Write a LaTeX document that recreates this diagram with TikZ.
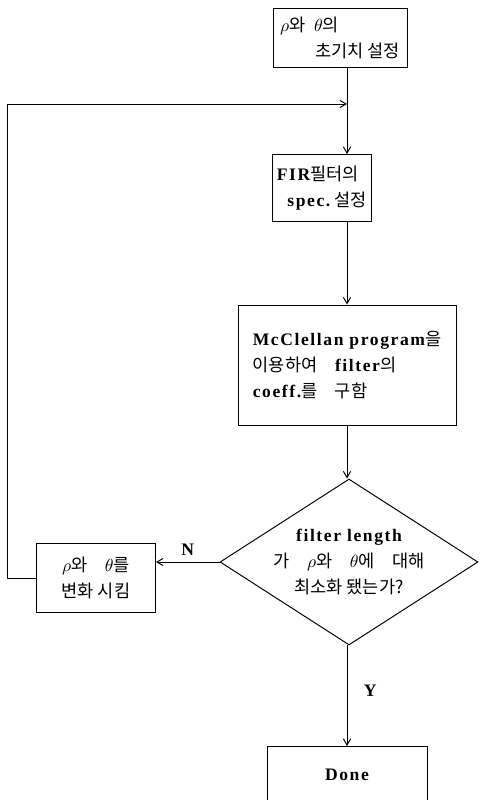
\documentclass[tikz,border=0pt]{standalone}
\usepackage{fontspec}
\usepackage{amsmath}
\usetikzlibrary{arrows}
\usetikzlibrary{shapes.geometric}
\setmainfont{Liberation Serif}
\newfontfamily\kr{Noto Sans CJK KR}
\newcommand{\hg}[1]{{\kr #1}}
\newcommand{\ls}[1]{{\addfontfeature{LetterSpace=9}#1}}

\begin{document}
\begin{tikzpicture}[x=0.02cm, y=-0.02cm, >=angle 60,
	box/.style={draw, rectangle, line width=0.55pt, align=left, inner xsep=2pt,
		font=\fontsize{10}{15}\selectfont},
	flow/.style={->, line width=0.55pt}]
	\useasboundingbox (0,0) rectangle (481,800);
	\clip (0,0) rectangle (481,800);
	
	\node[box, minimum width=2.68cm, minimum height=1.18cm] (init) at (340,38)
		{$\rho$\hg{와}\ \ $\theta$\hg{의}\\ \hspace{2em}\hg{초기치 설정}};
	\node[box, minimum width=1.98cm, minimum height=1.34cm] (spec) at (322,188)
		{\ls{\bfseries FIR}\hg{필터의}\\ \hspace{0.6em}\ls{\bfseries spec.}\ \hg{설정}};
	\node[box, minimum width=4.36cm, minimum height=2.4cm] (mcc) at (347,365)
		{\ls{\bfseries McClellan program}\hg{을}\\ \hg{이용하여}\quad\ls{\bfseries filter}\hg{의}\\ \ls{\bfseries coeff.}\hg{를}\quad\hg{구함}};
	\node[box, shape=diamond, aspect=1.55, inner sep=0pt, align=center, minimum width=5.16cm, minimum height=3.32cm] (dec) at (349,562)
		{\ls{\bfseries filter length}\\ \hg{가}\quad$\rho$\hg{와}\quad$\theta$\hg{에}\quad\hg{대해}\\ \hg{최소화 됐는가?}};
	\node[box, align=center, minimum width=2.38cm, minimum height=1.38cm] (vary) at (96,578)
		{$\rho$\hg{와}\quad$\theta$\hg{를}\\ \hg{변화 시킴}};
	\node[box, anchor=north, minimum width=3.2cm, inner ysep=0.45cm, text depth=1.2cm] (done) at (347,746)
		{\ls{\bfseries Done}};
	
	\coordinate (join) at (347,104);
	
	\draw[flow] (mcc.north |- init.south) -- (mcc.north |- spec.north);
	\draw[flow] (vary.west) -- ++(-29,0) |- (join);
	\draw[flow] (mcc.north |- spec.south) -- (mcc.north);
	\draw[flow] (mcc.south) -- (dec.north -| mcc.south);
	\draw[flow] (dec.west) -- (dec.west -| vary.east) node[above, pos=0.5] {\bfseries N};
	\draw[flow] (dec.south -| done.north) -- (done.north) node[right, pos=0.45, xshift=6pt] {\bfseries Y};
\end{tikzpicture}
\end{document}
